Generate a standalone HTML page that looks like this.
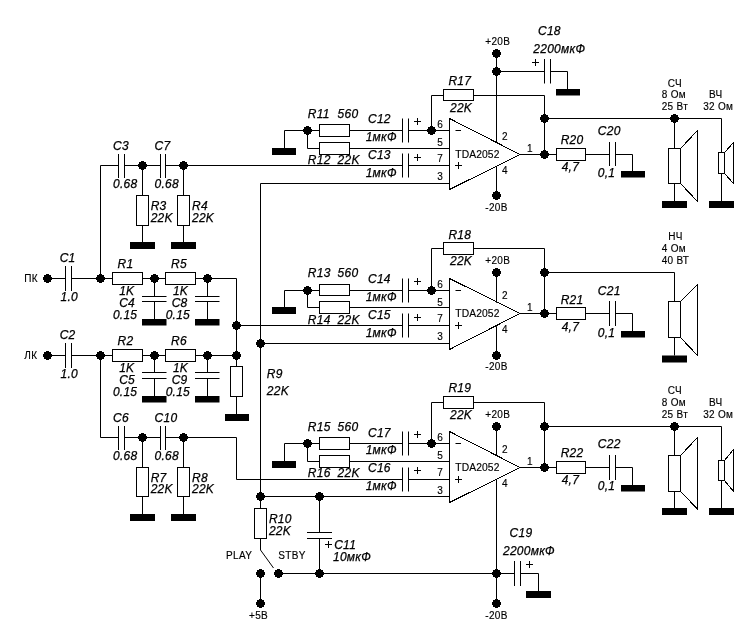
<!DOCTYPE html>
<html><head><meta charset="utf-8"><style>
html,body{margin:0;padding:0;background:#fff;}
svg{display:block;will-change:transform;}
path,line{fill:none;stroke:#000;stroke-width:1;}
.w{fill:#fff;stroke:#000;stroke-width:1;}
.f{fill:#000;stroke:none;}
.c{shape-rendering:crispEdges;}
text{font-family:"Liberation Sans",sans-serif;fill:#000;}
.i{font-style:italic;font-size:12px;letter-spacing:0.25px;stroke:#000;stroke-width:0.25px;}
.k{font-size:9px;fill:#111;}
.s{font-size:10px;fill:#000;letter-spacing:0.3px;stroke:#000;stroke-width:0.15px;}
.n{font-size:10px;stroke:#000;stroke-width:0.15px;}
.t{font-size:10.3px;fill:#000;letter-spacing:0.1px;stroke:#000;stroke-width:0.15px;}
.p{font-size:12px;}
</style></head><body>
<svg width="756" height="644" viewBox="0 0 756 644">
<rect x="0" y="0" width="756" height="644" fill="#fff"/>
<path d="M118.5 165.5 L100.5 165.5"/>
<path d="M118.5 154.0 L118.5 178.0"/>
<path d="M124.5 154.0 L124.5 178.0"/>
<path d="M124.5 165.5 L160.5 165.5"/>
<path d="M160.5 154.0 L160.5 178.0"/>
<path d="M165.5 154.0 L165.5 178.0"/>
<polygon points="141,161 144,161 144,162 146,162 146,164 147,164 147,167 146,167 146,169 144,169 144,170 141,170 141,169 139,169 139,167 138,167 138,164 139,164 139,162 141,162" class="f"/>
<path d="M142.5 165.5 L142.5 195.5"/>
<rect x="136.5" y="195.5" width="12.0" height="30.0" class="w"/>
<path d="M142.5 225.5 L142.5 242"/>
<rect x="130.0" y="242" width="25.0" height="7" class="f"/>
<polygon points="182,161 185,161 185,162 187,162 187,164 188,164 188,167 187,167 187,169 185,169 185,170 182,170 182,169 180,169 180,167 179,167 179,164 180,164 180,162 182,162" class="f"/>
<path d="M183.5 165.5 L183.5 195.5"/>
<rect x="177.5" y="195.5" width="12.0" height="30.0" class="w"/>
<path d="M183.5 225.5 L183.5 242"/>
<rect x="171.0" y="242" width="25.0" height="7" class="f"/>
<path d="M118.5 437.5 L100.5 437.5"/>
<path d="M118.5 426.0 L118.5 450.0"/>
<path d="M124.5 426.0 L124.5 450.0"/>
<path d="M124.5 437.5 L160.5 437.5"/>
<path d="M160.5 426.0 L160.5 450.0"/>
<path d="M165.5 426.0 L165.5 450.0"/>
<polygon points="141,433 144,433 144,434 146,434 146,436 147,436 147,439 146,439 146,441 144,441 144,442 141,442 141,441 139,441 139,439 138,439 138,436 139,436 139,434 141,434" class="f"/>
<path d="M142.5 437.5 L142.5 467.5"/>
<rect x="136.5" y="467.5" width="12.0" height="29.0" class="w"/>
<path d="M142.5 496.5 L142.5 514"/>
<rect x="130.0" y="514" width="25.0" height="7" class="f"/>
<polygon points="182,433 185,433 185,434 187,434 187,436 188,436 188,439 187,439 187,441 185,441 185,442 182,442 182,441 180,441 180,439 179,439 179,436 180,436 180,434 182,434" class="f"/>
<path d="M183.5 437.5 L183.5 467.5"/>
<rect x="177.5" y="467.5" width="12.0" height="29.0" class="w"/>
<path d="M183.5 496.5 L183.5 514"/>
<rect x="171.0" y="514" width="25.0" height="7" class="f"/>
<text x="113" y="150" class="i">C3</text>
<text x="113" y="187.6" class="i">0.68</text>
<text x="150.7" y="210" class="i">R3</text>
<text x="150.7" y="222" class="i">22K</text>
<text x="154.6" y="150" class="i">C7</text>
<text x="154.6" y="187.6" class="i">0.68</text>
<text x="192" y="210" class="i">R4</text>
<text x="192" y="222" class="i">22K</text>
<text x="113" y="422" class="i">C6</text>
<text x="113" y="459.8" class="i">0.68</text>
<text x="150.7" y="482" class="i">R7</text>
<text x="150.7" y="493" class="i">22K</text>
<text x="154.6" y="422" class="i">C10</text>
<text x="154.6" y="459.8" class="i">0.68</text>
<text x="192" y="482" class="i">R8</text>
<text x="192" y="493" class="i">22K</text>
<path d="M165.5 165.5 L402.5 165.5"/>
<path d="M100.5 165.5 L100.5 278.5"/>
<path d="M100.5 355.5 L100.5 437.5"/>
<path d="M165.5 437.5 L236.5 437.5 L236.5 479.5 L402.5 479.5"/>
<polygon points="46,274 49,274 49,275 51,275 51,277 52,277 52,280 51,280 51,282 49,282 49,283 46,283 46,282 44,282 44,280 43,280 43,277 44,277 44,275 46,275" class="f"/>
<path d="M47.5 278.5 L65.5 278.5"/>
<path d="M65.5 266.0 L65.5 291.0"/>
<path d="M71.5 266.0 L71.5 291.0"/>
<path d="M71.5 278.5 L112.5 278.5"/>
<polygon points="99,274 102,274 102,275 104,275 104,277 105,277 105,280 104,280 104,282 102,282 102,283 99,283 99,282 97,282 97,280 96,280 96,277 97,277 97,275 99,275" class="f"/>
<rect x="112.5" y="272.5" width="30.0" height="12.0" class="w"/>
<path d="M142.5 278.5 L165.5 278.5"/>
<polygon points="153,274 156,274 156,275 158,275 158,277 159,277 159,280 158,280 158,282 156,282 156,283 153,283 153,282 151,282 151,280 150,280 150,277 151,277 151,275 153,275" class="f"/>
<rect x="165.5" y="272.5" width="30.0" height="12.0" class="w"/>
<path d="M195.5 278.5 L236.5 278.5"/>
<polygon points="206,274 209,274 209,275 211,275 211,277 212,277 212,280 211,280 211,282 209,282 209,283 206,283 206,282 204,282 204,280 203,280 203,277 204,277 204,275 206,275" class="f"/>
<path d="M154.5 278.5 L154.5 296.5"/>
<path d="M142.0 296.5 L166.5 296.5"/>
<path d="M142.0 301.5 L166.5 301.5"/>
<path d="M154.5 301.5 L154.5 319.5"/>
<rect x="142.0" y="319.0" width="24.5" height="6.5" class="f"/>
<path d="M207.5 278.5 L207.5 296.5"/>
<path d="M195.0 296.5 L219.5 296.5"/>
<path d="M195.0 301.5 L219.5 301.5"/>
<path d="M207.5 301.5 L207.5 319.5"/>
<rect x="195.0" y="319.0" width="24.5" height="6.5" class="f"/>
<text x="24.3" y="281.5" class="s">ПК</text>
<text x="59.7" y="262.0" class="i">C1</text>
<text x="60.5" y="300.8" class="i">1.0</text>
<text x="117.6" y="267.5" class="i">R1</text>
<text x="119.2" y="294.5" class="i">1K</text>
<text x="119.2" y="306.5" class="i">C4</text>
<text x="112.9" y="318.6" class="i">0.15</text>
<text x="171" y="267.5" class="i">R5</text>
<text x="172.9" y="294.5" class="i">1K</text>
<text x="171.7" y="306.5" class="i">C8</text>
<text x="165.7" y="318.6" class="i">0.15</text>
<polygon points="46,351 49,351 49,352 51,352 51,354 52,354 52,357 51,357 51,359 49,359 49,360 46,360 46,359 44,359 44,357 43,357 43,354 44,354 44,352 46,352" class="f"/>
<path d="M47.5 355.5 L65.5 355.5"/>
<path d="M65.5 343.0 L65.5 368.0"/>
<path d="M71.5 343.0 L71.5 368.0"/>
<path d="M71.5 355.5 L112.5 355.5"/>
<polygon points="99,351 102,351 102,352 104,352 104,354 105,354 105,357 104,357 104,359 102,359 102,360 99,360 99,359 97,359 97,357 96,357 96,354 97,354 97,352 99,352" class="f"/>
<rect x="112.5" y="349.5" width="30.0" height="12.0" class="w"/>
<path d="M142.5 355.5 L165.5 355.5"/>
<polygon points="153,351 156,351 156,352 158,352 158,354 159,354 159,357 158,357 158,359 156,359 156,360 153,360 153,359 151,359 151,357 150,357 150,354 151,354 151,352 153,352" class="f"/>
<rect x="165.5" y="349.5" width="30.0" height="12.0" class="w"/>
<path d="M195.5 355.5 L236.5 355.5"/>
<polygon points="206,351 209,351 209,352 211,352 211,354 212,354 212,357 211,357 211,359 209,359 209,360 206,360 206,359 204,359 204,357 203,357 203,354 204,354 204,352 206,352" class="f"/>
<path d="M154.5 355.5 L154.5 372.5"/>
<path d="M142.0 372.5 L166.5 372.5"/>
<path d="M142.0 378.5 L166.5 378.5"/>
<path d="M154.5 378.5 L154.5 396.5"/>
<rect x="142.0" y="396.0" width="24.5" height="6.5" class="f"/>
<path d="M207.5 355.5 L207.5 372.5"/>
<path d="M195.0 372.5 L219.5 372.5"/>
<path d="M195.0 378.5 L219.5 378.5"/>
<path d="M207.5 378.5 L207.5 396.5"/>
<rect x="195.0" y="396.0" width="24.5" height="6.5" class="f"/>
<text x="24.3" y="358.5" class="s">ЛК</text>
<text x="59.7" y="339.0" class="i">C2</text>
<text x="60.5" y="377.8" class="i">1.0</text>
<text x="117.6" y="344.5" class="i">R2</text>
<text x="119.2" y="371.5" class="i">1K</text>
<text x="119.2" y="383.5" class="i">C5</text>
<text x="112.9" y="395.6" class="i">0.15</text>
<text x="171" y="344.5" class="i">R6</text>
<text x="172.9" y="371.5" class="i">1K</text>
<text x="171.7" y="383.5" class="i">C9</text>
<text x="165.7" y="395.6" class="i">0.15</text>
<path d="M236.5 278.5 L236.5 366.5"/>
<polygon points="235,321 238,321 238,322 240,322 240,324 241,324 241,327 240,327 240,329 238,329 238,330 235,330 235,329 233,329 233,327 232,327 232,324 233,324 233,322 235,322" class="f"/>
<polygon points="235,351 238,351 238,352 240,352 240,354 241,354 241,357 240,357 240,359 238,359 238,360 235,360 235,359 233,359 233,357 232,357 232,354 233,354 233,352 235,352" class="f"/>
<path d="M236.5 325.5 L402.5 325.5"/>
<rect x="230.5" y="366.5" width="12.0" height="30.0" class="w"/>
<path d="M236.5 396.5 L236.5 414"/>
<rect x="225" y="414" width="24" height="7" class="f"/>
<text x="266.8" y="378" class="i">R9</text>
<text x="266.8" y="394.7" class="i">22K</text>
<path d="M260.5 183.5 L260.5 496.5"/>
<polygon points="259,339 262,339 262,340 264,340 264,342 265,342 265,345 264,345 264,347 262,347 262,348 259,348 259,347 257,347 257,345 256,345 256,342 257,342 257,340 259,340" class="f"/>
<polygon points="259,492 262,492 262,493 264,493 264,495 265,495 265,498 264,498 264,500 262,500 262,501 259,501 259,500 257,500 257,498 256,498 256,495 257,495 257,493 259,493" class="f"/>
<polygon points="449.5,118.5 449.5,189.5 520,154.5" class="w c"/>
<polygon points="306,126 309,126 309,127 311,127 311,129 312,129 312,132 311,132 311,134 309,134 309,135 306,135 306,134 304,134 304,132 303,132 303,129 304,129 304,127 306,127" class="f"/>
<path d="M284.5 148 L284.5 130.5 L319.5 130.5"/>
<rect x="272" y="148" width="24" height="7" class="f"/>
<rect x="319.5" y="124.5" width="30.0" height="12.0" class="w"/>
<path d="M349.5 130.5 L402.5 130.5"/>
<path d="M307.5 130.5 L307.5 148.5 L319.5 148.5"/>
<rect x="319.5" y="142.5" width="30.0" height="12.0" class="w"/>
<path d="M349.5 148.5 L449.5 148.5"/>
<path d="M402.5 118.5 L402.5 142.5"/>
<path d="M408.5 118.5 L408.5 142.5"/>
<path d="M408.5 130.5 L449.5 130.5"/>
<path d="M402.5 153.5 L402.5 177.5"/>
<path d="M408.5 153.5 L408.5 177.5"/>
<path d="M408.5 165.5 L449.5 165.5"/>
<path d="M260.5 183.5 L449.5 183.5"/>
<polygon points="430,126 433,126 433,127 435,127 435,129 436,129 436,132 435,132 435,134 433,134 433,135 430,135 430,134 428,134 428,132 427,132 427,129 428,129 428,127 430,127" class="f"/>
<path d="M431.5 130.5 L431.5 95.5 L443.5 95.5"/>
<rect x="443.5" y="89.5" width="30.0" height="11.0" class="w"/>
<path d="M473.5 95.5 L544.5 95.5 L544.5 154.5"/>
<polygon points="543,114 546,114 546,115 548,115 548,117 549,117 549,120 548,120 548,122 546,122 546,123 543,123 543,122 541,122 541,120 540,120 540,117 541,117 541,115 543,115" class="f"/>
<path d="M520 154.5 L556.5 154.5"/>
<polygon points="543,150 546,150 546,151 548,151 548,153 549,153 549,156 548,156 548,158 546,158 546,159 543,159 543,158 541,158 541,156 540,156 540,153 541,153 541,151 543,151" class="f"/>
<rect x="556.5" y="148.5" width="29.0" height="12.0" class="w"/>
<path d="M585.5 154.5 L609.5 154.5"/>
<path d="M609.5 142.0 L609.5 166.0"/>
<path d="M615.5 142.0 L615.5 166.0"/>
<path d="M615.5 154.5 L632.5 154.5 L632.5 171"/>
<rect x="621" y="171" width="24" height="6.5" class="f"/>
<text x="307.8" y="117.9" class="i">R11</text>
<text x="337.6" y="117.9" class="i">560</text>
<text x="307.8" y="163.7" class="i">R12</text>
<text x="337.6" y="163.7" class="i">22K</text>
<text x="368" y="123" class="i">C12</text>
<text x="365.7" y="141.3" class="i">1мкФ</text>
<text x="368" y="158.7" class="i">C13</text>
<text x="365.7" y="177" class="i">1мкФ</text>
<path d="M414.0 121.5 L421.0 121.5"/>
<path d="M417.5 118.0 L417.5 125.0"/>
<path d="M414.0 157.5 L421.0 157.5"/>
<path d="M417.5 154.0 L417.5 161.0"/>
<text x="448.4" y="84.6" class="i">R17</text>
<text x="450" y="111.6" class="i">22K</text>
<text x="437.3" y="127.6" class="n">6</text>
<text x="437.3" y="145.6" class="n">5</text>
<text x="437.3" y="162.4" class="n">7</text>
<text x="437.3" y="180.1" class="n">3</text>
<text x="502" y="139.5" class="n">2</text>
<text x="527.1" y="151.8" class="n">1</text>
<text x="502" y="174.4" class="n">4</text>
<text x="455.3" y="157.5" class="t">TDA2052</text>
<path d="M455.5 130.5 L461 130.5"/>
<path d="M455.0 165.5 L462.0 165.5"/>
<path d="M458.5 162.0 L458.5 169.0"/>
<polygon points="449.5,278.5 449.5,349.5 520,313.5" class="w c"/>
<polygon points="306,286 309,286 309,287 311,287 311,289 312,289 312,292 311,292 311,294 309,294 309,295 306,295 306,294 304,294 304,292 303,292 303,289 304,289 304,287 306,287" class="f"/>
<path d="M284.5 307 L284.5 290.5 L319.5 290.5"/>
<rect x="272" y="307" width="24" height="7" class="f"/>
<rect x="319.5" y="284.5" width="30.0" height="11.0" class="w"/>
<path d="M349.5 290.5 L402.5 290.5"/>
<path d="M307.5 290.5 L307.5 307.5 L319.5 307.5"/>
<rect x="319.5" y="301.5" width="30.0" height="12.0" class="w"/>
<path d="M349.5 307.5 L449.5 307.5"/>
<path d="M402.5 278.5 L402.5 302.5"/>
<path d="M408.5 278.5 L408.5 302.5"/>
<path d="M408.5 290.5 L449.5 290.5"/>
<path d="M402.5 313.5 L402.5 337.5"/>
<path d="M408.5 313.5 L408.5 337.5"/>
<path d="M408.5 325.5 L449.5 325.5"/>
<path d="M260.5 343.5 L449.5 343.5"/>
<polygon points="430,286 433,286 433,287 435,287 435,289 436,289 436,292 435,292 435,294 433,294 433,295 430,295 430,294 428,294 428,292 427,292 427,289 428,289 428,287 430,287" class="f"/>
<path d="M431.5 290.5 L431.5 248.5 L443.5 248.5"/>
<rect x="443.5" y="242.5" width="30.0" height="12.0" class="w"/>
<path d="M473.5 248.5 L544.5 248.5 L544.5 313.5"/>
<polygon points="543,268 546,268 546,269 548,269 548,271 549,271 549,274 548,274 548,276 546,276 546,277 543,277 543,276 541,276 541,274 540,274 540,271 541,271 541,269 543,269" class="f"/>
<path d="M520 313.5 L556.5 313.5"/>
<polygon points="543,309 546,309 546,310 548,310 548,312 549,312 549,315 548,315 548,317 546,317 546,318 543,318 543,317 541,317 541,315 540,315 540,312 541,312 541,310 543,310" class="f"/>
<rect x="556.5" y="307.5" width="29.0" height="12.0" class="w"/>
<path d="M585.5 313.5 L609.5 313.5"/>
<path d="M609.5 301.0 L609.5 326.0"/>
<path d="M615.5 301.0 L615.5 326.0"/>
<path d="M615.5 313.5 L632.5 313.5 L632.5 331"/>
<rect x="621" y="331" width="24" height="6.5" class="f"/>
<text x="307.8" y="276.9" class="i">R13</text>
<text x="337.6" y="276.9" class="i">560</text>
<text x="307.8" y="323.7" class="i">R14</text>
<text x="337.6" y="323.7" class="i">22K</text>
<text x="368" y="283" class="i">C14</text>
<text x="365.7" y="301.3" class="i">1мкФ</text>
<text x="368" y="318.7" class="i">C15</text>
<text x="365.7" y="337" class="i">1мкФ</text>
<path d="M414.0 281.5 L421.0 281.5"/>
<path d="M417.5 278.0 L417.5 285.0"/>
<path d="M414.0 317.5 L421.0 317.5"/>
<path d="M417.5 314.0 L417.5 321.0"/>
<text x="448.4" y="238.6" class="i">R18</text>
<text x="450" y="264.6" class="i">22K</text>
<text x="437.3" y="287.6" class="n">6</text>
<text x="437.3" y="305.6" class="n">5</text>
<text x="437.3" y="322.4" class="n">7</text>
<text x="437.3" y="340.1" class="n">3</text>
<text x="502" y="298.5" class="n">2</text>
<text x="527.1" y="310.8" class="n">1</text>
<text x="502" y="333.4" class="n">4</text>
<text x="455.3" y="316.5" class="t">TDA2052</text>
<path d="M455.5 290.5 L461 290.5"/>
<path d="M455.0 325.5 L462.0 325.5"/>
<path d="M458.5 322.0 L458.5 329.0"/>
<polygon points="449.5,431.5 449.5,502.5 520,467.5" class="w c"/>
<polygon points="306,439 309,439 309,440 311,440 311,442 312,442 312,445 311,445 311,447 309,447 309,448 306,448 306,447 304,447 304,445 303,445 303,442 304,442 304,440 306,440" class="f"/>
<path d="M284.5 461 L284.5 443.5 L319.5 443.5"/>
<rect x="272" y="461" width="24" height="7" class="f"/>
<rect x="319.5" y="437.5" width="30.0" height="12.0" class="w"/>
<path d="M349.5 443.5 L402.5 443.5"/>
<path d="M307.5 443.5 L307.5 461.5 L319.5 461.5"/>
<rect x="319.5" y="455.5" width="30.0" height="12.0" class="w"/>
<path d="M349.5 461.5 L449.5 461.5"/>
<path d="M402.5 431.5 L402.5 455.5"/>
<path d="M408.5 431.5 L408.5 455.5"/>
<path d="M408.5 443.5 L449.5 443.5"/>
<path d="M402.5 467.5 L402.5 491.5"/>
<path d="M408.5 467.5 L408.5 491.5"/>
<path d="M408.5 479.5 L449.5 479.5"/>
<path d="M260.5 496.5 L449.5 496.5"/>
<polygon points="430,439 433,439 433,440 435,440 435,442 436,442 436,445 435,445 435,447 433,447 433,448 430,448 430,447 428,447 428,445 427,445 427,442 428,442 428,440 430,440" class="f"/>
<path d="M431.5 443.5 L431.5 402.5 L443.5 402.5"/>
<rect x="443.5" y="396.5" width="30.0" height="12.0" class="w"/>
<path d="M473.5 402.5 L544.5 402.5 L544.5 467.5"/>
<polygon points="543,422 546,422 546,423 548,423 548,425 549,425 549,428 548,428 548,430 546,430 546,431 543,431 543,430 541,430 541,428 540,428 540,425 541,425 541,423 543,423" class="f"/>
<path d="M520 467.5 L556.5 467.5"/>
<polygon points="543,463 546,463 546,464 548,464 548,466 549,466 549,469 548,469 548,471 546,471 546,472 543,472 543,471 541,471 541,469 540,469 540,466 541,466 541,464 543,464" class="f"/>
<rect x="556.5" y="461.5" width="29.0" height="12.0" class="w"/>
<path d="M585.5 467.5 L609.5 467.5"/>
<path d="M609.5 455.0 L609.5 480.0"/>
<path d="M615.5 455.0 L615.5 480.0"/>
<path d="M615.5 467.5 L632.5 467.5 L632.5 485"/>
<rect x="621" y="485" width="24" height="6.5" class="f"/>
<text x="307.8" y="430.9" class="i">R15</text>
<text x="337.6" y="430.9" class="i">560</text>
<text x="307.8" y="476.7" class="i">R16</text>
<text x="337.6" y="476.7" class="i">22K</text>
<text x="368" y="437" class="i">C17</text>
<text x="365.7" y="454.3" class="i">1мкФ</text>
<text x="368" y="471.7" class="i">C16</text>
<text x="365.7" y="490" class="i">1мкФ</text>
<path d="M414.0 434.5 L421.0 434.5"/>
<path d="M417.5 431.0 L417.5 438.0"/>
<path d="M414.0 470.5 L421.0 470.5"/>
<path d="M417.5 467.0 L417.5 474.0"/>
<text x="448.4" y="391.6" class="i">R19</text>
<text x="450" y="418.6" class="i">22K</text>
<text x="437.3" y="440.6" class="n">6</text>
<text x="437.3" y="458.6" class="n">5</text>
<text x="437.3" y="476.4" class="n">7</text>
<text x="437.3" y="494.1" class="n">3</text>
<text x="502" y="452.5" class="n">2</text>
<text x="527.1" y="464.8" class="n">1</text>
<text x="502" y="487.4" class="n">4</text>
<text x="455.3" y="470.5" class="t">TDA2052</text>
<path d="M455.5 443.5 L461 443.5"/>
<path d="M455.0 479.5 L462.0 479.5"/>
<path d="M458.5 476.0 L458.5 483.0"/>
<text x="560.7" y="143.5" class="i">R20</text>
<text x="561.7" y="171.3" class="i">4,7</text>
<text x="597.8" y="135.2" class="i">C20</text>
<text x="597.8" y="176.9" class="i">0,1</text>
<text x="560.7" y="303.5" class="i">R21</text>
<text x="561.7" y="331.3" class="i">4,7</text>
<text x="597.8" y="295.2" class="i">C21</text>
<text x="597.8" y="336.9" class="i">0,1</text>
<text x="560.7" y="456.5" class="i">R22</text>
<text x="561.7" y="484.3" class="i">4,7</text>
<text x="597.8" y="448.2" class="i">C22</text>
<text x="597.8" y="489.9" class="i">0,1</text>
<path d="M496.5 53.5 L496.5 142.8"/>
<path d="M496.5 166.2 L496.5 195.5"/>
<polygon points="495,49 498,49 498,50 500,50 500,52 501,52 501,55 500,55 500,57 498,57 498,58 495,58 495,57 493,57 493,55 492,55 492,52 493,52 493,50 495,50" class="f"/>
<polygon points="495,67 498,67 498,68 500,68 500,70 501,70 501,73 500,73 500,75 498,75 498,76 495,76 495,75 493,75 493,73 492,73 492,70 493,70 493,68 495,68" class="f"/>
<polygon points="495,191 498,191 498,192 500,192 500,194 501,194 501,197 500,197 500,199 498,199 498,200 495,200 495,199 493,199 493,197 492,197 492,194 493,194 493,192 495,192" class="f"/>
<text x="497.7" y="45" class="s" text-anchor="middle">+20B</text>
<text x="496.5" y="210.5" class="s" text-anchor="middle">-20B</text>
<path d="M496.5 71.5 L544.5 71.5"/>
<path d="M544.5 59 L544.5 83.5"/>
<path d="M550.5 59 L550.5 83.5"/>
<path d="M550.5 71.5 L567.5 71.5 L567.5 89"/>
<rect x="556" y="89" width="24" height="6.5" class="f"/>
<path d="M532.0 62.5 L539.0 62.5"/>
<path d="M535.5 59.0 L535.5 66.0"/>
<text x="538" y="35" class="i">C18</text>
<text x="533.3" y="53" class="i">2200мкФ</text>
<path d="M496.5 272.5 L496.5 302.8"/>
<path d="M496.5 326.2 L496.5 355.5"/>
<polygon points="495,268 498,268 498,269 500,269 500,271 501,271 501,274 500,274 500,276 498,276 498,277 495,277 495,276 493,276 493,274 492,274 492,271 493,271 493,269 495,269" class="f"/>
<polygon points="495,351 498,351 498,352 500,352 500,354 501,354 501,357 500,357 500,359 498,359 498,360 495,360 495,359 493,359 493,357 492,357 492,354 493,354 493,352 495,352" class="f"/>
<text x="497.7" y="264.2" class="s" text-anchor="middle">+20B</text>
<text x="496.5" y="369.5" class="s" text-anchor="middle">-20B</text>
<path d="M496.5 426.5 L496.5 455.8"/>
<path d="M496.5 479.2 L496.5 603.5"/>
<polygon points="495,422 498,422 498,423 500,423 500,425 501,425 501,428 500,428 500,430 498,430 498,431 495,431 495,430 493,430 493,428 492,428 492,425 493,425 493,423 495,423" class="f"/>
<polygon points="495,569 498,569 498,570 500,570 500,572 501,572 501,575 500,575 500,577 498,577 498,578 495,578 495,577 493,577 493,575 492,575 492,572 493,572 493,570 495,570" class="f"/>
<polygon points="495,599 498,599 498,600 500,600 500,602 501,602 501,605 500,605 500,607 498,607 498,608 495,608 495,607 493,607 493,605 492,605 492,602 493,602 493,600 495,600" class="f"/>
<text x="497.7" y="418.1" class="s" text-anchor="middle">+20B</text>
<text x="496.5" y="618.5" class="s" text-anchor="middle">-20B</text>
<path d="M278.5 573.5 L514.5 573.5"/>
<path d="M514.5 561 L514.5 586"/>
<path d="M520.5 561 L520.5 586"/>
<path d="M520.5 573.5 L538.5 573.5 L538.5 591"/>
<rect x="526" y="591" width="25" height="7" class="f"/>
<path d="M526.0 564.5 L533.0 564.5"/>
<path d="M529.5 561.0 L529.5 568.0"/>
<text x="509.6" y="537" class="i">C19</text>
<text x="503" y="554.8" class="i">2200мкФ</text>
<path d="M544.5 118.5 L721.5 118.5"/>
<polygon points="673,114 676,114 676,115 678,115 678,117 679,117 679,120 678,120 678,122 676,122 676,123 673,123 673,122 671,122 671,120 670,120 670,117 671,117 671,115 673,115" class="f"/>
<path d="M674.5 118.5 L674.5 148.5"/>
<rect x="668.5" y="148.5" width="12.0" height="35.0" class="w"/>
<polygon points="680.5,148.5 697.5,130.5 697.5,201.5 680.5,183.5" class="w c"/>
<path d="M674.5 183.5 L674.5 201.0"/>
<rect x="662" y="201.0" width="25" height="7.0" class="f"/>
<path d="M721.5 118.5 L721.5 152.5"/>
<rect x="718.5" y="152.5" width="6.0" height="21.0" class="w"/>
<polygon points="724.5,152.5 733.5,142.5 733.5,183.5 724.5,173.5" class="w c"/>
<path d="M721.5 173.5 L721.5 201.0"/>
<rect x="709" y="201.0" width="25" height="7.0" class="f"/>
<path d="M544.5 272.5 L674.5 272.5"/>
<path d="M674.5 272.5 L674.5 301.5"/>
<rect x="668.5" y="301.5" width="12.0" height="36.0" class="w"/>
<polygon points="680.5,301.5 697.5,284.5 697.5,355.5 680.5,337.5" class="w c"/>
<path d="M674.5 337.5 L674.5 355.5"/>
<rect x="662" y="355.5" width="25" height="7.0" class="f"/>
<path d="M544.5 426.5 L721.5 426.5"/>
<polygon points="673,422 676,422 676,423 678,423 678,425 679,425 679,428 678,428 678,430 676,430 676,431 673,431 673,430 671,430 671,428 670,428 670,425 671,425 671,423 673,423" class="f"/>
<path d="M674.5 426.5 L674.5 455.5"/>
<rect x="668.5" y="455.5" width="12.0" height="36.0" class="w"/>
<polygon points="680.5,455.5 697.5,437.5 697.5,509.0 680.5,491.5" class="w c"/>
<path d="M674.5 491.5 L674.5 508.0"/>
<rect x="662" y="508.0" width="25" height="7.0" class="f"/>
<path d="M721.5 426.5 L721.5 460.5"/>
<rect x="718.5" y="460.5" width="6.0" height="20.0" class="w"/>
<polygon points="724.5,460.5 733.5,449.5 733.5,491.5 724.5,480.5" class="w c"/>
<path d="M721.5 480.5 L721.5 508.0"/>
<rect x="709" y="508.0" width="25" height="7.0" class="f"/>
<text x="667.8" y="86.5" class="s">СЧ</text>
<text x="661.7" y="98.0" class="s">8 Ом</text>
<text x="661.7" y="109.5" class="s">25 Вт</text>
<text x="709" y="98.0" class="s">ВЧ</text>
<text x="703.2" y="109.5" class="s">32 Ом</text>
<text x="667.8" y="393.5" class="s">СЧ</text>
<text x="661.7" y="406.0" class="s">8 Ом</text>
<text x="661.7" y="417.5" class="s">25 Вт</text>
<text x="709" y="406.0" class="s">ВЧ</text>
<text x="703.2" y="417.5" class="s">32 Ом</text>
<text x="668.3" y="240" class="s">НЧ</text>
<text x="661.7" y="252" class="s">4 Ом</text>
<text x="661.7" y="264" class="s">40 ВТ</text>
<path d="M260.5 496.5 L449.5 496.5"/>
<polygon points="318,492 321,492 321,493 323,493 323,495 324,495 324,498 323,498 323,500 321,500 321,501 318,501 318,500 316,500 316,498 315,498 315,495 316,495 316,493 318,493" class="f"/>
<path d="M260.5 496.5 L260.5 508.5"/>
<rect x="254.5" y="508.5" width="12.0" height="30.0" class="w"/>
<path d="M260.5 538.5 L260.5 550 L273.5 568"/>
<polygon points="259,569 262,569 262,570 264,570 264,572 265,572 265,575 264,575 264,577 262,577 262,578 259,578 259,577 257,577 257,575 256,575 256,572 257,572 257,570 259,570" class="f"/>
<polygon points="277,569 280,569 280,570 282,570 282,572 283,572 283,575 282,575 282,577 280,577 280,578 277,578 277,577 275,577 275,575 274,575 274,572 275,572 275,570 277,570" class="f"/>
<polygon points="318,569 321,569 321,570 323,570 323,572 324,572 324,575 323,575 323,577 321,577 321,578 318,578 318,577 316,577 316,575 315,575 315,572 316,572 316,570 318,570" class="f"/>
<path d="M260.5 573.5 L260.5 603.5"/>
<polygon points="259,599 262,599 262,600 264,600 264,602 265,602 265,605 264,605 264,607 262,607 262,608 259,608 259,607 257,607 257,605 256,605 256,602 257,602 257,600 259,600" class="f"/>
<text x="258.5" y="619" class="s" text-anchor="middle">+5B</text>
<path d="M319.5 496.5 L319.5 532.5"/>
<path d="M307 532.5 L332 532.5"/>
<path d="M307 538.5 L332 538.5"/>
<path d="M319.5 538.5 L319.5 573.5"/>
<path d="M325.0 544.5 L332.0 544.5"/>
<path d="M328.5 541.0 L328.5 548.0"/>
<text x="334.2" y="549" class="i">C11</text>
<text x="333" y="560.7" class="i">10мкФ</text>
<text x="226.1" y="558.7" class="s">PLAY</text>
<text x="278.3" y="558.7" class="s">STBY</text>
<text x="268.9" y="522.7" class="i">R10</text>
<text x="268.9" y="534.6" class="i">22K</text>
</svg></body></html>
